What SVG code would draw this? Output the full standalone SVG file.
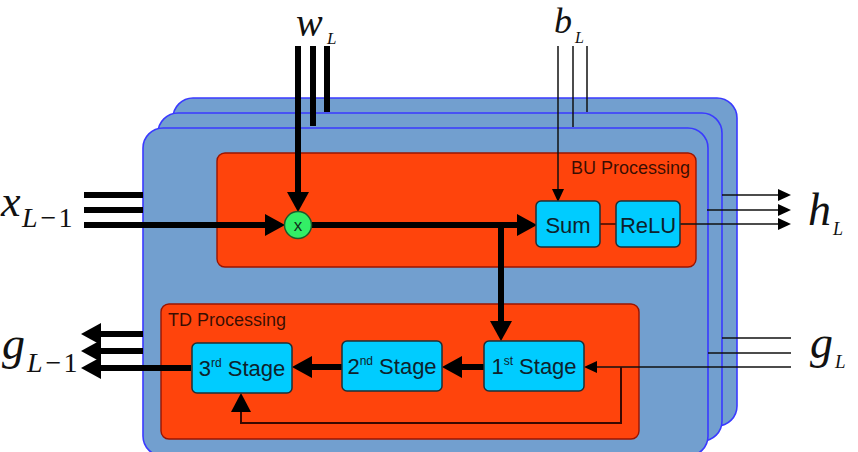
<svg xmlns="http://www.w3.org/2000/svg" width="858" height="452" viewBox="0 0 858 452">
  <style>
    .panel { fill: #729fcf; stroke: #3a3aff; stroke-width: 1.6; }
    .proc { fill: #ff440c; stroke: #9a1400; stroke-width: 1.4; }
    .box { fill: #00ccff; stroke: #1e2f36; stroke-width: 1.5; }
    .lbl { font-family: "Liberation Sans", Arial, sans-serif; font-size: 18px; fill: #000; fill-opacity: 0.78; }
    .btxt { font-family: "Liberation Sans", Arial, sans-serif; font-size: 22px; fill: #0e222c; text-anchor: middle; }
    .sup { font-size: 12px; }
    .math { font-family: "Liberation Serif", "Times New Roman", serif; font-style: italic; fill: #111; }
    .up { font-style: normal; }
    .thick { stroke: #000; stroke-width: 6; fill: none; }
    .thin { stroke: #111; stroke-width: 1.5; fill: none; }
    .fb { stroke: #3a0800; stroke-width: 2; fill: none; }
  </style>
  <defs>
    <marker id="ah" markerUnits="userSpaceOnUse" markerWidth="20" markerHeight="22" refX="0" refY="11" orient="auto">
      <path d="M0,0 L20,11 L0,22 z" fill="#000"/>
    </marker>
    <marker id="ahs" markerUnits="userSpaceOnUse" markerWidth="13" markerHeight="12" refX="0" refY="6" orient="auto">
      <path d="M0,0 L13,6 L0,12 z" fill="#000"/>
    </marker>
    <marker id="ahf" markerUnits="userSpaceOnUse" markerWidth="19" markerHeight="20" refX="0" refY="10" orient="auto">
      <path d="M0,0 L19,10 L0,20 z" fill="#000"/>
    </marker>
  </defs>

  <!-- stacked layer panels -->
  <g id="layer-back"><rect class="panel" x="173" y="98" width="564" height="328" rx="20"/></g>
  <g id="layer-middle"><rect class="panel" x="158" y="113" width="564" height="328" rx="20"/></g>
  <g id="layer-front"><rect class="panel" x="143" y="128" width="565" height="328" rx="20"/></g>

  <!-- processing blocks -->
  <g id="bu-processing">
    <rect class="proc" x="217" y="153" width="479" height="114" rx="8"/>
    <text class="lbl" x="690" y="174" text-anchor="end">BU Processing</text>
  </g>
  <g id="td-processing">
    <rect class="proc" x="161" y="304" width="478" height="135" rx="8"/>
    <text class="lbl" x="168" y="326">TD Processing</text>
  </g>

  <!-- connectors -->
  <g id="connectors">
    <!-- w_L inputs -->
    <line class="thick" x1="313" y1="46" x2="313" y2="126"/>
    <line class="thick" x1="327" y1="46" x2="327" y2="112"/>
    <path class="thick" d="M298,46 V192" marker-end="url(#ah)"/>
    <!-- x_{L-1} inputs -->
    <line class="thick" x1="84" y1="195" x2="143" y2="195"/>
    <line class="thick" x1="84" y1="210" x2="143" y2="210"/>
    <path class="thick" d="M84,225 H265" marker-end="url(#ah)"/>
    <!-- multiply to Sum -->
    <path class="thick" d="M312,225 H517" marker-end="url(#ah)"/>
    <!-- branch down to 1st stage -->
    <path class="thick" d="M501,225 V321" marker-end="url(#ah)"/>
    <!-- b_L inputs -->
    <line class="thin" x1="573" y1="46" x2="573" y2="127"/>
    <line class="thin" x1="587" y1="46" x2="587" y2="112"/>
    <path class="thin" d="M558,46 V189" marker-end="url(#ahs)"/>
    <!-- Sum to ReLU -->
    <line stroke="#3a0800" stroke-width="1.5" x1="600" y1="224" x2="616" y2="224"/>
    <!-- h_L outputs -->
    <path class="thin" d="M722,195 H778" marker-end="url(#ahs)"/>
    <path class="thin" d="M707,210 H778" marker-end="url(#ahs)"/>
    <path class="thin" d="M680,224 H778" marker-end="url(#ahs)"/>
    <!-- g_L inputs -->
    <line class="thin" x1="722" y1="338" x2="791" y2="338"/>
    <line class="thin" x1="708" y1="353" x2="791" y2="353"/>
    <path class="thin" d="M791,367 H597" marker-end="url(#ahs)"/>
    <!-- feedback to 3rd stage -->
    <path class="fb" d="M621,367 V423 H241 V412" marker-end="url(#ahf)"/>
    <!-- TD chain -->
    <path class="thick" d="M484,367 H462" marker-end="url(#ah)"/>
    <path class="thick" d="M342,367 H312" marker-end="url(#ah)"/>
    <!-- g_{L-1} outputs -->
    <path class="thick" d="M143,334 H101" marker-end="url(#ah)"/>
    <path class="thick" d="M143,351 H101" marker-end="url(#ah)"/>
    <path class="thick" d="M191,368 H101" marker-end="url(#ah)"/>
  </g>

  <!-- nodes -->
  <g id="multiply">
    <circle cx="298" cy="225" r="13.5" fill="#33ee66" stroke="#1d5a2a" stroke-width="1.5"/>
    <text x="298" y="231" font-family="Liberation Sans, Arial, sans-serif" font-size="17" fill="#10301a" text-anchor="middle">x</text>
  </g>
  <g id="sum">
    <rect class="box" x="536" y="201" width="64" height="46" rx="5"/>
    <text class="btxt" x="568" y="233">Sum</text>
  </g>
  <g id="relu">
    <rect class="box" x="616" y="201" width="64" height="46" rx="5"/>
    <text class="btxt" x="648" y="233">ReLU</text>
  </g>
  <g id="stage1">
    <rect class="box" x="484" y="341" width="100" height="50" rx="5"/>
    <text class="btxt" x="534" y="374">1<tspan class="sup" dy="-9">st</tspan><tspan dy="9"> Stage</tspan></text>
  </g>
  <g id="stage2">
    <rect class="box" x="342" y="341" width="100" height="50" rx="5"/>
    <text class="btxt" x="392" y="374">2<tspan class="sup" dy="-9">nd</tspan><tspan dy="9"> Stage</tspan></text>
  </g>
  <g id="stage3">
    <rect class="box" x="192" y="343" width="100" height="50" rx="5"/>
    <text class="btxt" x="242" y="376">3<tspan class="sup" dy="-9">rd</tspan><tspan dy="9"> Stage</tspan></text>
  </g>

  <!-- math labels -->
  <g id="label-w">
    <text class="math" x="296" y="36" font-size="40">w</text>
    <text class="math" x="327" y="44" font-size="17">L</text>
  </g>
  <g id="label-b">
    <text class="math" x="554" y="33" font-size="36">b</text>
    <text class="math" x="575" y="43" font-size="16">L</text>
  </g>
  <g id="label-x">
    <text class="math" x="1" y="216" font-size="44">x</text>
    <text class="math" x="22" y="227" font-size="28">L<tspan class="up" dx="3">−</tspan><tspan class="up" dx="2">1</tspan></text>
  </g>
  <g id="label-h">
    <text class="math" x="808" y="225" font-size="46">h</text>
    <text class="math" x="833" y="235" font-size="18">L</text>
  </g>
  <g id="label-g-prev">
    <text class="math" x="2" y="359" font-size="46">g</text>
    <text class="math" x="27" y="372" font-size="28">L<tspan class="up" dx="3">−</tspan><tspan class="up" dx="2">1</tspan></text>
  </g>
  <g id="label-g">
    <text class="math" x="810" y="358" font-size="46">g</text>
    <text class="math" x="835" y="368" font-size="19">L</text>
  </g>
</svg>
